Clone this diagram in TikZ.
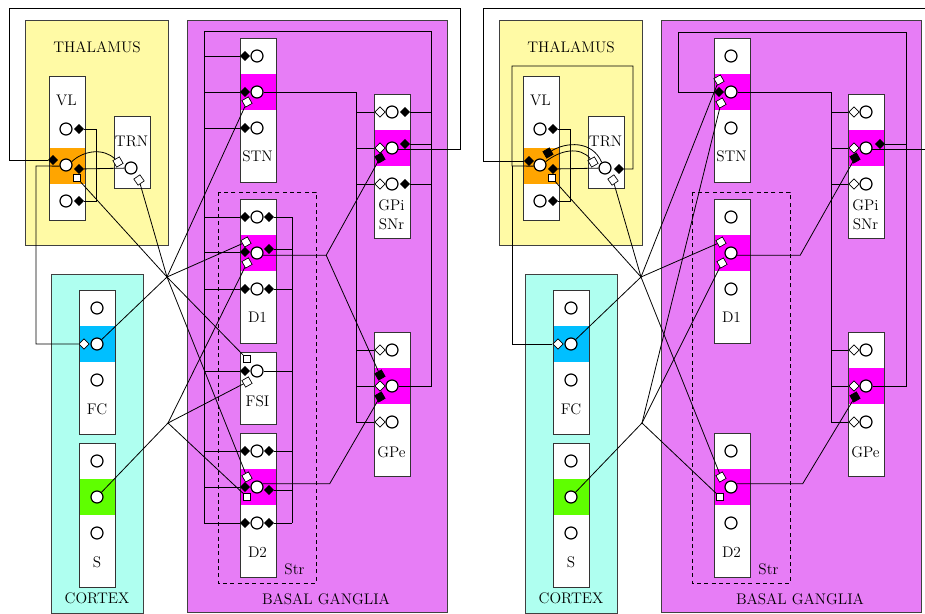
\documentclass[tikz,border=0pt]{standalone}
\usepackage{fontspec}
\usetikzlibrary{shapes.geometric}
\definecolor{thal}{RGB}{255,250,165}
\definecolor{cort}{RGB}{175,255,240}
\definecolor{bgc}{RGB}{231,125,246}
\definecolor{magb}{RGB}{255,0,255}
\definecolor{orab}{RGB}{255,165,0}
\definecolor{blub}{RGB}{0,191,255}
\definecolor{grnb}{RGB}{95,255,0}
\pgfdeclarelayer{bg}
\pgfdeclarelayer{fg}
\pgfsetlayers{bg,main,fg}
\tikzset{
  reg/.style={draw=black!75, line width=0.6pt},
  colline/.style={draw=black!80, line width=0.6pt},
  nrn/.style={circle, draw, fill=white, minimum size=9pt, inner sep=0pt, line width=0.9pt},
  bdm/.style={diamond, draw, fill=black, minimum width=7pt, minimum height=7pt, inner sep=0pt, line width=0.4pt},
  wdm/.style={bdm, fill=white, minimum width=8pt, minimum height=8pt, line width=0.55pt},
  wsq/.style={rectangle, draw, fill=white, minimum size=5.6pt, inner sep=0pt, line width=0.5pt},
  bsq/.style={wsq, fill=black},
  lbl/.style={font=\fontsize{11.5}{13.8}\selectfont, inner sep=0pt, anchor=base},
  conn/.style={line width=0.6pt},
}
\newcommand\colm[5]{%
  \fill[white] (#1,#2) rectangle (#1+36,#3);
  \fill[#5] (#1,#4) rectangle (#1+36,#4+36);
  \draw[colline] (#1,#2) rectangle (#1+36,#3);}
\newcommand\basepart[2]{%
\begin{scope}[shift={(#2,0)}]
\begin{pgfonlayer}{bg}
  \draw[reg, fill=thal] (25,20) rectangle (168,245);
  \draw[reg, fill=cort] (51,274) rectangle (143,613);
  \draw[reg, fill=bgc] (187,20) rectangle (447,612);
  \colm{49}{76}{220}{148}{orab}
  \colm{114}{116}{188}{116}{white}
  \colm{79}{290}{434}{326}{blub}
  \colm{79}{443}{587}{479}{grnb}
  \colm{240}{38}{182}{74}{magb}
  \colm{240}{199}{343}{235}{magb}
  \colm{240}{433}{577}{469}{magb}
  \colm{374}{94}{238}{130}{magb}
  \colm{374}{332}{476}{368}{magb}
  \draw[line width=0.6pt, dash pattern=on 3pt off 2.5pt] (218,192) rectangle (316,583);
\end{pgfonlayer}
\node[lbl] (#1tha) at (97,52) {THALAMUS};
\node[lbl] (#1cor) at (97,603) {CORTEX};
\node[lbl] (#1bas) at (326,604) {BASAL GANGLIA};
\node[lbl] (#1vlt) at (66.5,105) {VL};
\node[lbl] (#1trt) at (131.5,146.5) {TRN};
\node[lbl] (#1fct) at (97,414) {FC};
\node[lbl] (#1sst) at (97,567) {S};
\node[lbl] (#1stnt) at (257.5,161) {STN};
\node[lbl] (#1dat) at (257.5,322) {D1};
\node[lbl] (#1dbt) at (257.5,557) {D2};
\node[lbl] (#1gpit) at (391.5,210) {GPi};
\node[lbl] (#1snrt) at (391.5,229) {SNr};
\node[lbl] (#1gpet) at (391.5,457) {GPe};
\node[lbl] (#1strt) at (294.5,574) {Str};
\begin{pgfonlayer}{fg}
  \node[nrn] (#1vl1) at (66,129) {};
  \node[nrn] (#1vl2) at (66,165) {};
  \node[nrn] (#1vl3) at (66,201) {};
  \node[nrn] (#1trn) at (131,168) {};
  \node[nrn] (#1fc1) at (97,308) {};
  \node[nrn] (#1fc2) at (97,344) {};
  \node[nrn] (#1fc3) at (97,380) {};
  \node[nrn] (#1s1) at (97,461) {};
  \node[nrn] (#1s2) at (97,497) {};
  \node[nrn] (#1s3) at (97,533) {};
  \node[nrn] (#1stn1) at (257,56) {};
  \node[nrn] (#1stn2) at (257,92) {};
  \node[nrn] (#1stn3) at (257,128) {};
  \node[nrn] (#1d11) at (257,217) {};
  \node[nrn] (#1d12) at (257,253) {};
  \node[nrn] (#1d13) at (257,289) {};
  \node[nrn] (#1d21) at (257,451) {};
  \node[nrn] (#1d22) at (257,487) {};
  \node[nrn] (#1d23) at (257,523) {};
  \node[nrn] (#1gpi1) at (392,112) {};
  \node[nrn] (#1gpi2) at (392,148) {};
  \node[nrn] (#1gpi3) at (392,184) {};
  \node[nrn] (#1gpe1) at (392,350) {};
  \node[nrn] (#1gpe2) at (392,386) {};
  \node[nrn] (#1gpe3) at (392,422) {};
\end{pgfonlayer}
\coordinate (#1h1) at (167,277);
\coordinate (#1h2) at (168,423);
\end{scope}}

\begin{document}
\begin{tikzpicture}[x=0.75pt,y=-0.75pt]
\useasboundingbox (0,0) rectangle (925,614);
\clip (0,0) rectangle (925,614);
\begin{pgfonlayer}{bg}
  \fill[white] (0,0) rectangle (925,614);
\end{pgfonlayer}
\basepart{L}{0}
\basepart{R}{474}

% ================= LEFT =================
\begin{pgfonlayer}{bg}
  \colm{240}{352}{424}{352}{white}
\end{pgfonlayer}
\node[lbl] (Lfsit) at (257.5,406) {FSI};
\begin{pgfonlayer}{fg}
  \node[nrn] (Lfsi) at (257,371) {};
  \node[bdm] (Lvl1r) at (79,129) {};
  \node[bdm] (Lvl2r) at (79,169) {};
  \node[bdm] (Lvl3r) at (79,201) {};
  \node[bdm] (Lvl2l) at (53,160) {};
  \node[wsq] (Lvls) at (77,178) {};
  \node[wsq, rotate=30] (Ltrna) at (118,162) {};
  \node[wsq, rotate=35] (Ltrnb) at (139,180) {};
  \node[wdm] (Lfc2l) at (84,344) {};
  \node[bdm] (Lstn1l) at (245,56) {};
  \node[bdm] (Lstn2l) at (245,92) {};
  \node[bdm] (Lstn3l) at (245,128) {};
  \node[wsq, rotate=30] (Lstns) at (247,102) {};
  \node[bdm] (Ld11l) at (245,217) {};
  \node[bdm] (Ld12l) at (245,252) {};
  \node[bdm] (Ld13l) at (245,289) {};
  \node[bdm] (Ld11r) at (269,217) {};
  \node[bdm] (Ld12r) at (269,249) {};
  \node[bdm] (Ld13r) at (269,289) {};
  \node[wsq, rotate=30] (Ld1a) at (246,242) {};
  \node[wsq, rotate=30] (Ld1b) at (247,263) {};
  \node[wsq] (Lfsia) at (247,359) {};
  \node[bdm] (Lfsil) at (245,371) {};
  \node[wsq, rotate=30] (Lfsib) at (247,382) {};
  \node[bdm] (Ld21l) at (245,451) {};
  \node[bdm] (Ld22l) at (245,487) {};
  \node[bdm] (Ld23l) at (245,523) {};
  \node[bdm] (Ld21r) at (269,451) {};
  \node[bdm] (Ld22r) at (269,490) {};
  \node[bdm] (Ld23r) at (269,523) {};
  \node[wsq, rotate=30] (Ld2a) at (247,477) {};
  \node[wsq] (Ld2b) at (247,497) {};
  \node[wdm] (Lgpi1l) at (380,112) {};
  \node[wdm] (Lgpi2l) at (380,148) {};
  \node[wdm] (Lgpi3l) at (380,184) {};
  \node[bdm] (Lgpi1r) at (405,112) {};
  \node[bdm] (Lgpi2r) at (405,144) {};
  \node[bdm] (Lgpi3r) at (405,184) {};
  \node[bsq, rotate=30] (Lgpi2s) at (380,158) {};
  \node[wdm] (Lgpe1l) at (380,350) {};
  \node[wdm] (Lgpe2l) at (380,386) {};
  \node[wdm] (Lgpe3l) at (380,422) {};
  \node[bsq, rotate=30] (Lgpe2a) at (380,375) {};
  \node[bsq, rotate=30] (Lgpe2b) at (380,397) {};
\end{pgfonlayer}
\coordinate (Lxa) at (204,0);
\coordinate (Lxb) at (431,0);
\coordinate (Lxc) at (356,0);
\coordinate (Lxd) at (292,0);
% thalamus
\draw[conn] (Lvl1r) -- (96,129) -- (96,201) -- (Lvl3r);
\draw[conn] (Ltrn) -- (Lvl2r);
\draw[conn] (Lvl2.30) .. controls (84,150) and (104,148) .. (Ltrna);
\draw[conn] (Lvl2.190) -- (36,166) |- (Lfc2l);
\draw[conn] (Lgpi2.-15) -- ++(62,0) |- (9,8) |- (Lvl2l);
% hubs
\draw[conn] (Lfc2) -- (Lh1);
\draw[conn] (Lvls) -- (Lh1);
\draw[conn] (Ltrnb) -- (Lh1);
\draw[conn] (Lh1) -- (Lstns);
\draw[conn] (Lh1) -- (Ld1a);
\draw[conn] (Lh1) -- (Lfsia);
\draw[conn] (Lh1) -- (Ld2a);
\draw[conn] (Ls2) -- (Lh2);
\draw[conn] (Lh2) -- (Ld1b);
\draw[conn] (Lh2) -- (Lfsib);
\draw[conn] (Lh2) -- (Ld2b);
% GPe feedback
\draw[conn] (Lgpe2) -- (431,386) |- (204,31) -- (204,523);
\draw[conn] (Lstn1l) -- (Lstn1l -| Lxa);
\draw[conn] (Lstn2l) -- (Lstn2l -| Lxa);
\draw[conn] (Lstn3l) -- (Lstn3l -| Lxa);
\draw[conn] (Ld11l) -- (Ld11l -| Lxa);
\draw[conn] (Ld12l) -- (Ld12l -| Lxa);
\draw[conn] (Ld13l) -- (Ld13l -| Lxa);
\draw[conn] (Lfsil) -- (Lfsil -| Lxa);
\draw[conn] (Ld21l) -- (Ld21l -| Lxa);
\draw[conn] (Ld22l) -- (Ld22l -| Lxa);
\draw[conn] (Ld23l) -- (Ld23l -| Lxa);
\draw[conn] (Lgpi1r) -- (Lgpi1r -| Lxb);
\draw[conn] (Lgpi2r) -- (Lgpi2r -| Lxb);
\draw[conn] (Lgpi3r) -- (Lgpi3r -| Lxb);
% STN out
\draw[conn] (Lstn2) -- (356,92) -- (356,422);
\draw[conn] (Lgpi1l) -- (Lgpi1l -| Lxc);
\draw[conn] (Lgpi2l) -- (Lgpi2l -| Lxc);
\draw[conn] (Lgpi3l) -- (Lgpi3l -| Lxc);
\draw[conn] (Lgpe1l) -- (Lgpe1l -| Lxc);
\draw[conn] (Lgpe2l) -- (Lgpe2l -| Lxc);
\draw[conn] (Lgpe3l) -- (Lgpe3l -| Lxc);
% striatal lateral
\draw[conn] (292,217) -- (292,523);
\draw[conn] (Ld11r) -- (Ld11r -| Lxd);
\draw[conn] (Ld12r) -- (Ld12r -| Lxd);
\draw[conn] (Ld13r) -- (Ld13r -| Lxd);
\draw[conn] (Ld21r) -- (Ld21r -| Lxd);
\draw[conn] (Ld22r) -- (Ld22r -| Lxd);
\draw[conn] (Ld23r) -- (Ld23r -| Lxd);
\draw[conn] (Lfsi) -- (Lfsi -| Lxd);
% striatal outputs
\draw[conn] (Ld12.-20) -- ++(63,0) coordinate (Lj1) -- (Lgpi2s);
\draw[conn] (Lj1) -- (Lgpe2a);
\draw[conn] (Ld22.30) -- ++(67,0) -- (Lgpe2b);

% ================= RIGHT =================
\begin{pgfonlayer}{fg}
  \node[bdm] (Rvl1r) at (553,129) {};
  \node[bdm] (Rvl2r) at (553,169) {};
  \node[bdm] (Rvl3r) at (553,201) {};
  \node[bdm] (Rvl2l) at (529,161) {};
  \node[wsq] (Rvls) at (552,178) {};
  \node[bsq, rotate=30] (Rvlb) at (548,153) {};
  \node[wsq, rotate=30] (Rtrna) at (593,162) {};
  \node[wsq, rotate=35] (Rtrnb) at (613,180) {};
  \node[bdm] (Rtrnr) at (619,169) {};
  \node[wdm] (Rfc2l) at (558,344) {};
  \node[wsq, rotate=30] (Rstna) at (719,80) {};
  \node[bdm] (Rstn2l) at (719,92) {};
  \node[wsq, rotate=30] (Rstnb) at (721,103) {};
  \node[wsq, rotate=30] (Rd1a) at (721,242) {};
  \node[wsq, rotate=30] (Rd1b) at (722,263) {};
  \node[wsq, rotate=30] (Rd2a) at (721,477) {};
  \node[wsq] (Rd2b) at (720,497) {};
  \node[wdm] (Rgpi1l) at (854,112) {};
  \node[wdm] (Rgpi2l) at (854,148) {};
  \node[wdm] (Rgpi3l) at (854,184) {};
  \node[bdm] (Rgpi2r) at (880,144) {};
  \node[bsq, rotate=30] (Rgpi2s) at (855,158) {};
  \node[wdm] (Rgpe1l) at (854,350) {};
  \node[wdm] (Rgpe2l) at (854,386) {};
  \node[wdm] (Rgpe3l) at (854,422) {};
  \node[bsq, rotate=30] (Rgpe2s) at (855,397) {};
\end{pgfonlayer}
\coordinate (Rxb) at (906,0);
\coordinate (Rxc) at (831,0);
\coordinate (Rj0) at (512,166);
% thalamus
\draw[conn] (Rvl1r) -- (570,129) -- (570,201) -- (Rvl3r);
\draw[conn] (Rtrn) -- (Rvl2r);
\draw[conn] (Rvl2.30) .. controls (560,150) and (580,146) .. (Rtrna);
\draw[conn] (Rvlb) .. controls (566,142) and (592,140) .. (Rtrn.120);
\draw[conn] (Rvl2.190) -- (Rj0) |- (633,66) |- (Rtrnr);
\draw[conn] (Rj0) |- (Rfc2l);
\draw[conn] (Rgpi2.-15) -- ++(80,0) |- (483,8) |- (Rvl2l);
% hubs
\draw[conn] (Rfc2) -- (Rh1);
\draw[conn] (Rvls) -- (Rh1);
\draw[conn] (Rtrnb) -- (Rh1);
\draw[conn] (Rh1) -- (Rstna);
\draw[conn] (Rh1) -- (Rd1a);
\draw[conn] (Rh1) -- (Rd2a);
\draw[conn] (Rs2) -- (Rh2);
\draw[conn] (Rh2) -- (Rstnb);
\draw[conn] (Rh2) -- (Rd1b);
\draw[conn] (Rh2) -- (Rd2b);
% GPe feedback
\draw[conn] (Rgpe2) -- (906,386) |- (678,32) |- (Rstn2l);
\draw[conn] (Rgpi2r) -- (Rgpi2r -| Rxb);
% STN out
\draw[conn] (Rstn2) -- (831,92) -- (831,422);
\draw[conn] (Rgpi1l) -- (Rgpi1l -| Rxc);
\draw[conn] (Rgpi2l) -- (Rgpi2l -| Rxc);
\draw[conn] (Rgpi3l) -- (Rgpi3l -| Rxc);
\draw[conn] (Rgpe1l) -- (Rgpe1l -| Rxc);
\draw[conn] (Rgpe2l) -- (Rgpe2l -| Rxc);
\draw[conn] (Rgpe3l) -- (Rgpe3l -| Rxc);
% striatal outputs
\draw[conn] (Rd12.-20) -- ++(63,0) -- (Rgpi2s);
\draw[conn] (Rd22.30) -- ++(66,0) -- (Rgpe2s);
\end{tikzpicture}
\end{document}
